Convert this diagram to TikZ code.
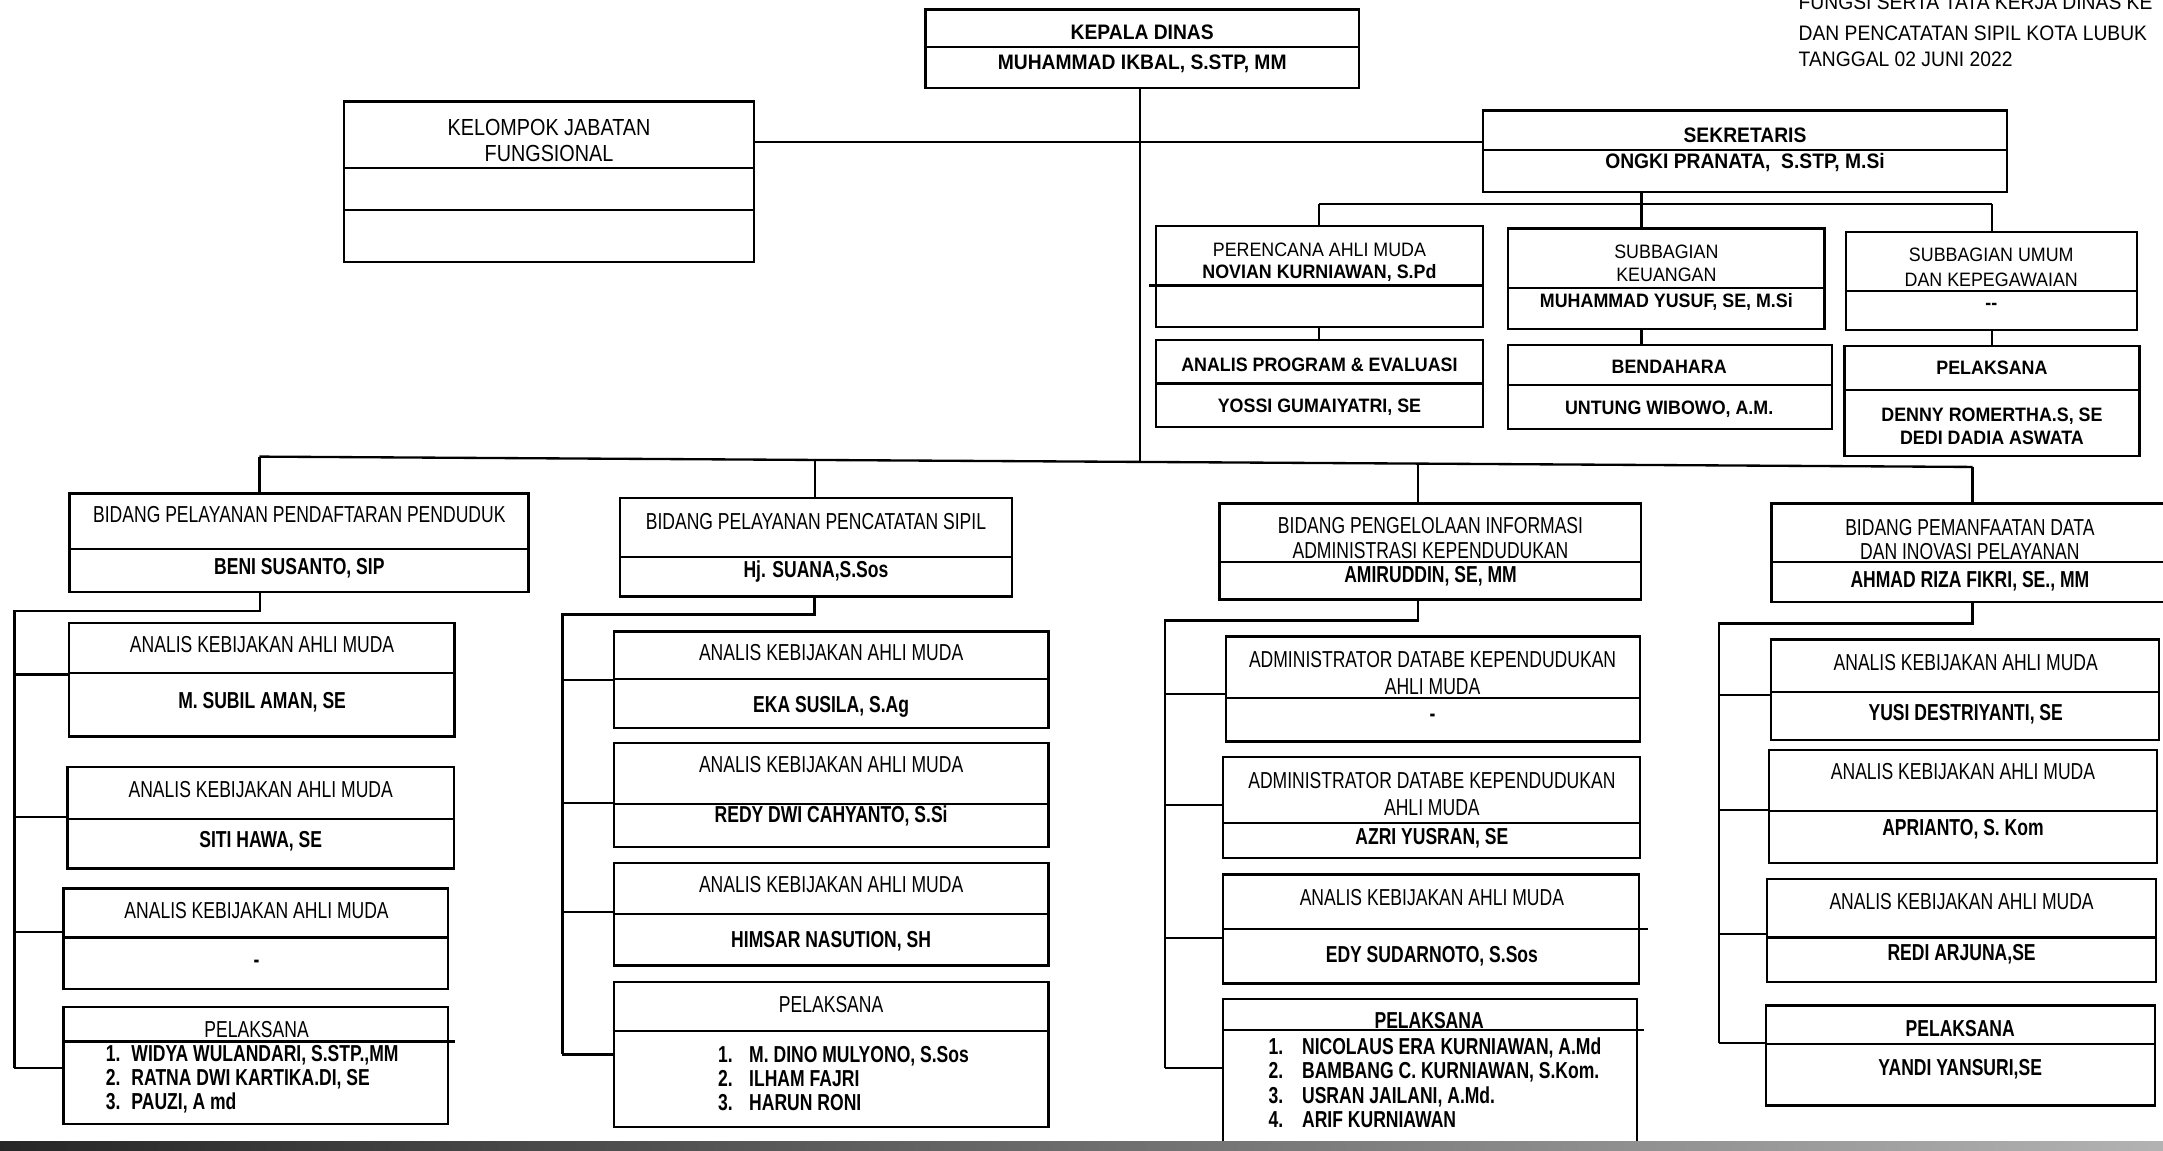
\documentclass[tikz,border=0pt]{standalone}
\usepackage{fontspec}
\setmainfont{Liberation Sans}
\newfontfamily\hdfont[FakeStretch=0.92]{Liberation Sans}
\newfontfamily\mdfont[FakeStretch=0.85]{Liberation Sans}
\newfontfamily\bdfont[FakeStretch=0.76]{Liberation Sans}
\usetikzlibrary{fit}

\begin{document}
\begin{tikzpicture}[x=0.025cm,y=-0.025cm]
  \tikzstyle{rectblock}=[rectangle, draw, line width=1.2pt, inner sep=0pt]
  \tikzstyle{conn}=[line width=1.2pt]
  \tikzstyle{divline}=[line width=1.1pt]
  \tikzstyle{toptxt}=[inner sep=0pt, font=\hdfont\fontsize{10.8}{13}\selectfont\bfseries]
  \tikzstyle{notetxt}=[inner sep=0pt, anchor=base west, font=\hdfont\fontsize{10.8}{13}\selectfont]
  \tikzstyle{sectxt}=[inner sep=0pt, align=center, font=\hdfont\fontsize{10}{12.1}\selectfont]
  \tikzstyle{secname}=[inner sep=0pt, align=center, font=\hdfont\fontsize{10}{11.8}\selectfont\bfseries]
  \tikzstyle{fungtxt}=[inner sep=0pt, align=center, font=\mdfont\fontsize{12}{13.3}\selectfont]
  \tikzstyle{bidtxt}=[inner sep=0pt, align=center, font=\bdfont\fontsize{11.9}{12.5}\selectfont]
  \tikzstyle{bidname}=[inner sep=0pt, align=center, font=\bdfont\fontsize{11.9}{12.5}\selectfont\bfseries]
  \tikzstyle{listtxt}=[inner sep=0pt, align=left, anchor=west, font=\bdfont\fontsize{11.9}{12.5}\selectfont\bfseries]

  \path[use as bounding box, fill=white] (0,0) rectangle (1568,834);
  \clip (0,0) rectangle (1568,834);

  \node[notetxt] (N1) at (1303.6,6.9) {FUNGSI SERTA TATA KERJA DINAS KE};
  \node[notetxt] (N2) at (1303.6,29.6) {DAN PENCATATAN SIPIL KOTA LUBUK};
  \node[notetxt] (N3) at (1303.6,48.4) {TANGGAL 02 JUNI 2022};

  \node[rectblock, fit={(671,7) (985,64)}] (KD) {};
  \draw[divline] (KD.west |- 0,34.3) -- (KD.east |- 0,34.3);
  \node[toptxt] (KDa) at (828,23.4) {KEPALA DINAS};
  \node[toptxt] (KDb) at (828,45.9) {MUHAMMAD IKBAL, S.STP, MM};

  \node[rectblock, fit={(249.4,73.7) (546.6,152.2)}] (KJ) {};
  \draw[divline] (KJ.west |- 0,121.5) -- (KJ.east |- 0,121.5);
  \node[rectblock, fit={(249.4,152.2) (546.6,189.7)}] (KJ2) {};
  \node[fungtxt] (KJa) at (398,101.7) {KELOMPOK JABATAN\\FUNGSIONAL};

  \node[rectblock, fit={(1075,80) (1455,139)}] (SK) {};
  \draw[divline] (SK.west |- 0,109) -- (SK.east |- 0,109);
  \node[toptxt] (SKa) at (1265,98) {SEKRETARIS};
  \node[toptxt] (SKb) at (1265,118) {ONGKI PRANATA,\ \ S.STP, M.Si};

  \node[rectblock, fit={(838,164) (1075,237)}] (PR) {};
  \draw[divline] ([xshift=-3]PR.west |- 0,207) -- (PR.east |- 0,207);
  \node[sectxt] (PRa) at (956.5,181) {PERENCANA AHLI MUDA};
  \node[secname] (PRb) at (956.5,198) {NOVIAN KURNIAWAN, S.Pd};
  \node[rectblock, fit={(838,246.5) (1075,309.5)}] (AP) {};
  \draw[divline] (AP.west |- 0,278) -- (AP.east |- 0,278);
  \node[secname] (APa) at (956.5,264.6) {ANALIS PROGRAM \& EVALUASI};
  \node[secname] (APb) at (956.5,295) {YOSSI GUMAIYATRI, SE};

  \node[rectblock, fit={(1093,165.6) (1322.5,238.6)}] (SU) {};
  \draw[divline] (SU.west |- 0,209) -- (SU.east |- 0,209);
  \node[sectxt] (SUa) at (1208,191) {SUBBAGIAN\\KEUANGAN};
  \node[secname] (SUb) at (1208,218.7) {MUHAMMAD YUSUF, SE, M.Si};
  \node[rectblock, fit={(1093,250) (1328,311)}] (BE) {};
  \draw[divline] (BE.west |- 0,279) -- (BE.east |- 0,279);
  \node[secname] (BEa) at (1210,266) {BENDAHARA};
  \node[secname] (BEb) at (1210,297) {UNTUNG WIBOWO, A.M.};

  \node[rectblock, fit={(1338,168) (1549,239)}] (UM) {};
  \draw[divline] (UM.west |- 0,211) -- (UM.east |- 0,211);
  \node[sectxt] (UMa) at (1443.5,194) {SUBBAGIAN UMUM\\[0.7pt]DAN KEPEGAWAIAN};
  \node[secname] (UMb) at (1443.5,222) {-{}-};
  \node[rectblock, fit={(1337,251) (1551,330.6)}] (PE) {};
  \draw[divline] (PE.west |- 0,282.7) -- (PE.east |- 0,282.7);
  \node[secname] (PEa) at (1444,267) {PELAKSANA};
  \node[secname] (PEb) at (1444,309.3) {DENNY ROMERTHA.S, SE\\DEDI DADIA ASWATA};

  \node[rectblock, fit={(50.5,357.7) (383,429)}] (BA) {};
  \draw[divline] (BA.west |- 0,398) -- (BA.east |- 0,398);
  \node[bidtxt] (BAa) at (217,373) {BIDANG PELAYANAN PENDAFTARAN PENDUDUK};
  \node[bidname] (BAb) at (217,412) {BENI SUSANTO, SIP};
  \node[rectblock, fit={(50,451.5) (329.5,534)}] (A1) {};
  \draw[divline] (A1.west |- 0,488) -- (A1.east |- 0,488);
  \node[bidtxt] (A1a) at (190,467.6) {ANALIS KEBIJAKAN AHLI MUDA};
  \node[bidname] (A1b) at (190,509) {M. SUBIL AMAN, SE};
  \node[rectblock, fit={(49,556) (329,629.7)}] (A2) {};
  \draw[divline] (A2.west |- 0,593.5) -- (A2.east |- 0,593.5);
  \node[bidtxt] (A2a) at (189,572) {ANALIS KEBIJAKAN AHLI MUDA};
  \node[bidname] (A2b) at (189,610) {SITI HAWA, SE};
  \node[rectblock, fit={(46,644) (325,716.7)}] (A3) {};
  \draw[divline] (A3.west |- 0,679.6) -- (A3.east |- 0,679.6);
  \node[bidtxt] (A3a) at (186,660) {ANALIS KEBIJAKAN AHLI MUDA};
  \node[bidname] (A3b) at (186,698.6) {-};
  \node[rectblock, fit={(46,730) (325,815)}] (A4) {};
  \draw[divline] (A4.west |- 0,755) -- ([xshift=3]A4.east |- 0,755);
  \node[bidtxt] (A4a) at (186,746) {PELAKSANA};
  \node[listtxt] (A4b) at (76.4,782.3) {1.\hspace{5.7pt}WIDYA WULANDARI, S.STP.,MM\\2.\hspace{5.7pt}RATNA DWI KARTIKA.DI, SE\\3.\hspace{5.7pt}PAUZI, A md};

  \node[rectblock, fit={(449.5,361) (733.4,432.4)}] (BB) {};
  \draw[divline] (BB.west |- 0,403.8) -- (BB.east |- 0,403.8);
  \node[bidtxt] (BBa) at (591.5,378) {BIDANG PELAYANAN PENCATATAN SIPIL};
  \node[bidname] (BBb) at (591.5,414.3) {Hj. SUANA,S.Sos};
  \node[rectblock, fit={(445,457.7) (760,527.7)}] (B1) {};
  \draw[divline] (B1.west |- 0,492) -- (B1.east |- 0,492);
  \node[bidtxt] (B1a) at (602.5,473.4) {ANALIS KEBIJAKAN AHLI MUDA};
  \node[bidname] (B1b) at (602.5,512.3) {EKA SUSILA, S.Ag};
  \node[rectblock, fit={(445,538.6) (760,614)}] (B2) {};
  \draw[divline] (B2.west |- 0,583) -- (B2.east |- 0,583);
  \node[bidtxt] (B2a) at (602.5,554) {ANALIS KEBIJAKAN AHLI MUDA};
  \node[bidname] (B2b) at (602.5,591.8) {REDY DWI CAHYANTO, S.Si};
  \node[rectblock, fit={(445,625.6) (760,700)}] (B3) {};
  \draw[divline] (B3.west |- 0,662.5) -- (B3.east |- 0,662.5);
  \node[bidtxt] (B3a) at (602.5,641) {ANALIS KEBIJAKAN AHLI MUDA};
  \node[bidname] (B3b) at (602.5,682) {HIMSAR NASUTION, SH};
  \node[rectblock, fit={(445,712) (760,817)}] (B4) {};
  \draw[divline] (B4.west |- 0,747.4) -- (B4.east |- 0,747.4);
  \node[bidtxt] (B4a) at (602.5,728.3) {PELAKSANA};
  \node[listtxt] (B4b) at (520.3,781.9) {1.\hspace{8.5pt}M. DINO MULYONO, S.Sos\\2.\hspace{8.5pt}ILHAM FAJRI\\3.\hspace{8.5pt}HARUN RONI};

  \node[rectblock, fit={(884,365) (1189.6,434.6)}] (BC) {};
  \draw[divline] (BC.west |- 0,407.7) -- (BC.east |- 0,407.7);
  \node[bidtxt] (BCa) at (1037,390.1) {BIDANG PENGELOLAAN INFORMASI\\ADMINISTRASI KEPENDUDUKAN};
  \node[bidname] (BCb) at (1037,417.5) {AMIRUDDIN, SE, MM};
  \node[rectblock, fit={(888.7,461.3) (1188.8,537.6)}] (C1) {};
  \draw[divline] (C1.west |- 0,505.7) -- (C1.east |- 0,505.7);
  \node[bidtxt] (C1a) at (1038.5,487.9) {ADMINISTRATOR DATABE KEPENDUDUKAN\\[1.9pt]AHLI MUDA};
  \node[bidname] (C1b) at (1038.5,520) {-};
  \node[rectblock, fit={(886.8,549) (1188.8,622)}] (C2) {};
  \draw[divline] (C2.west |- 0,596.6) -- (C2.east |- 0,596.6);
  \node[bidtxt] (C2a) at (1038,575.6) {ADMINISTRATOR DATABE KEPENDUDUKAN\\[1.9pt]AHLI MUDA};
  \node[bidname] (C2b) at (1038,607.5) {AZRI YUSRAN, SE};
  \node[rectblock, fit={(886.8,634) (1188,713)}] (C3) {};
  \draw[divline] (C3.west |- 0,673.4) -- ([xshift=4]C3.east |- 0,673.4);
  \node[bidtxt] (C3a) at (1038,651) {ANALIS KEBIJAKAN AHLI MUDA};
  \node[bidname] (C3b) at (1038,693) {EDY SUDARNOTO, S.Sos};
  \node[rectblock, fit={(886.8,724) (1186.5,850)}] (C4) {};
  \draw[divline] (C4.west |- 0,746.4) -- ([xshift=3]C4.east |- 0,746.4);
  \node[bidname] (C4a) at (1036,739.8) {PELAKSANA};
  \node[listtxt] (C4b) at (919.4,784.9) {1.\hspace{9.7pt}NICOLAUS ERA KURNIAWAN, A.Md\\2.\hspace{9.7pt}BAMBANG C. KURNIAWAN, S.Kom.\\3.\hspace{9.7pt}USRAN JAILANI, A.Md.\\4.\hspace{9.7pt}ARIF KURNIAWAN};

  \node[rectblock, fit={(1284.3,365) (1575,436.4)}] (BD) {};
  \draw[divline] (BD.west |- 0,407.7) -- (BD.east |- 0,407.7);
  \node[bidtxt] (BDa) at (1428,391.2) {BIDANG PEMANFAATAN DATA\\DAN INOVASI PELAYANAN};
  \node[bidname] (BDb) at (1428,421.5) {AHMAD RIZA FIKRI, SE., MM};
  \node[rectblock, fit={(1284,463.6) (1565,536.6)}] (D1) {};
  \draw[divline] (D1.west |- 0,501.4) -- (D1.east |- 0,501.4);
  \node[bidtxt] (D1a) at (1425,480) {ANALIS KEBIJAKAN AHLI MUDA};
  \node[bidname] (D1b) at (1425,517.6) {YUSI DESTRIYANTI, SE};
  \node[rectblock, fit={(1282.5,543.5) (1563.4,625.4)}] (D2) {};
  \draw[divline] (D2.west |- 0,588) -- (D2.east |- 0,588);
  \node[bidtxt] (D2a) at (1423,559.6) {ANALIS KEBIJAKAN AHLI MUDA};
  \node[bidname] (D2b) at (1423,601) {APRIANTO, S. Kom};
  \node[rectblock, fit={(1281,637) (1563,712)}] (D3) {};
  \draw[divline] (D3.west |- 0,679.6) -- (D3.east |- 0,679.6);
  \node[bidtxt] (D3a) at (1422,653.6) {ANALIS KEBIJAKAN AHLI MUDA};
  \node[bidname] (D3b) at (1422,692) {REDI ARJUNA,SE};
  \node[rectblock, fit={(1280,729) (1562,801.5)}] (D4) {};
  \draw[divline] (D4.west |- 0,757) -- (D4.east |- 0,757);
  \node[bidname] (D4a) at (1421,745.7) {PELAKSANA};
  \node[bidname] (D4b) at (1421,775.3) {YANDI YANSURI,SE};

  \coordinate (ks) at (826.4,103);
  \coordinate (bk) at (826.4,334);
  \draw[conn] (KJ.east |- ks) -- (SK.west |- ks);
  \draw[conn] (KD.south -| bk) -- (bk);

  \coordinate (s1) at (956.3,148);
  \coordinate (s2) at (1190,148);
  \coordinate (s3) at (1444,148);
  \draw[conn] (SK.south -| s2) -- (s2);
  \draw[conn] (s1) -- (s3);
  \draw[conn] (s1) -- (s1 |- PR.north);
  \draw[conn] (s2) -- (s2 |- SU.north);
  \draw[conn] (s3) -- (s3 |- UM.north);
  \draw[conn] (s1 |- PR.south) -- (s1 |- AP.north);
  \draw[conn] (s2 |- SU.south) -- (s2 |- BE.north);
  \draw[conn] (s3 |- UM.south) -- (s3 |- PE.north);

  \coordinate (b1) at (188,331);
  \coordinate (b2) at (591,332.5);
  \coordinate (b3) at (1028,335.5);
  \coordinate (b4) at (1430,338.5);
  \draw[conn] (b1) -- (b4);
  \draw[conn] (b1) -- (b1 |- BA.north);
  \draw[conn] (b2) -- (b2 |- BB.north);
  \draw[conn] (b3) -- (b3 |- BC.north);
  \draw[conn] (b4) -- (b4 |- BD.north);

  \coordinate (ak) at (188.5,443);
  \coordinate (al) at (10.4,443);
  \coordinate (ae) at (10.4,774);
  \draw[conn] (BA.south -| ak) -- (ak) -- (al) -- (ae);
  \draw[conn] (al |- 0,489) -- (A1.west |- 0,489);
  \draw[conn] (al |- 0,592.5) -- (A2.west |- 0,592.5);
  \draw[conn] (al |- 0,675.6) -- (A3.west |- 0,675.6);
  \draw[conn] (ae) -- (A4.west |- ae);

  \coordinate (bq) at (590.4,445.5);
  \coordinate (bl) at (407.7,445.5);
  \coordinate (be) at (407.7,764.4);
  \draw[conn] (BB.south -| bq) -- (bq) -- (bl) -- (be);
  \draw[conn] (bl |- 0,493) -- (B1.west |- 0,493);
  \draw[conn] (bl |- 0,582) -- (B2.west |- 0,582);
  \draw[conn] (bl |- 0,661) -- (B3.west |- 0,661);
  \draw[conn] (be) -- (B4.west |- be);

  \coordinate (ck) at (1028,449.8);
  \coordinate (cl) at (844.5,449.8);
  \coordinate (ce) at (844.5,774);
  \draw[conn] (BC.south -| ck) -- (ck) -- (cl) -- (ce);
  \draw[conn] (cl |- 0,503) -- (C1.west |- 0,503);
  \draw[conn] (cl |- 0,583.6) -- (C2.west |- 0,583.6);
  \draw[conn] (cl |- 0,680) -- (C3.west |- 0,680);
  \draw[conn] (ce) -- (C4.west |- ce);

  \coordinate (dk) at (1430,452);
  \coordinate (dl) at (1246,452);
  \coordinate (de) at (1246,756);
  \draw[conn] (BD.south -| dk) -- (dk) -- (dl) -- (de);
  \draw[conn] (dl |- 0,504) -- (D1.west |- 0,504);
  \draw[conn] (dl |- 0,587) -- (D2.west |- 0,587);
  \draw[conn] (dl |- 0,677) -- (D3.west |- 0,677);
  \draw[conn] (de) -- (D4.west |- de);

  \fill[left color=black!85, right color=black!30] (0,827.5) rectangle (1568,834);
\end{tikzpicture}
\end{document}
